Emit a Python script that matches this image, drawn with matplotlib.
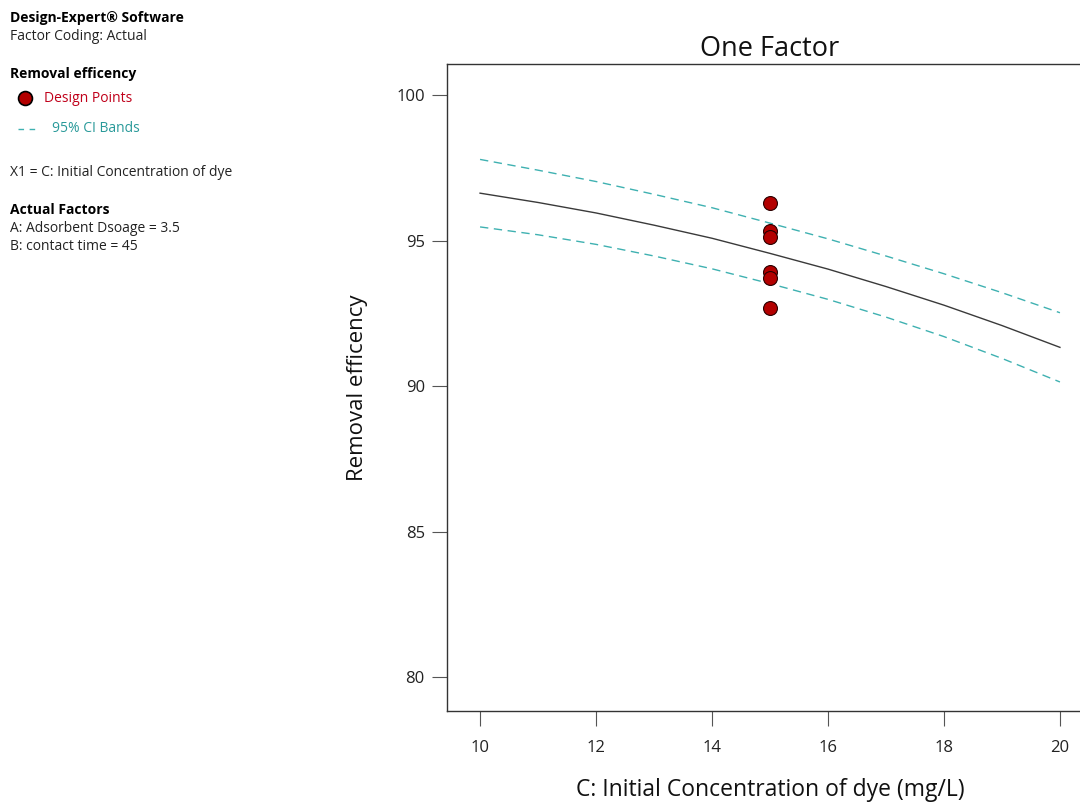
import matplotlib
matplotlib.use("Agg")
import matplotlib.pyplot as plt
from matplotlib.lines import Line2D

plt.rcParams['font.family'] = ['Open Sans', 'DejaVu Sans']

# predicted response and 95% CI bands along factor C
conc = [10, 11, 12, 13, 14, 15, 16, 17, 18, 19, 20]
pred = [96.63, 96.31, 95.95, 95.53, 95.08, 94.56, 94.02, 93.42, 92.78, 92.08, 91.33]
ci_upper = [97.79, 97.42, 97.03, 96.59, 96.13, 95.60, 95.06, 94.47, 93.86, 93.21, 92.52]
ci_lower = [95.47, 95.20, 94.87, 94.47, 94.03, 93.52, 92.98, 92.37, 91.70, 90.95, 90.14]

# design points (all runs at C = 15)
pts_x = [15, 15, 15, 15, 15, 15]
pts_y = [96.30, 95.32, 95.14, 93.93, 93.71, 92.68]

xticks = [10, 12, 14, 16, 18, 20]
yticks = [80, 85, 90, 95, 100]

teal = '#3fb1b1'
dark_red = '#b30000'

fig = plt.figure(figsize=(10.8, 8.07), dpi=100)
ax = fig.add_axes([447 / 1080, 96 / 807, 646 / 1080, 647 / 807])

ax.plot(conc, pred, color='#3a3a3a', lw=1.0)
ax.plot(conc, ci_upper, color=teal, lw=1.0, ls=(0, (6, 4)))
ax.plot(conc, ci_lower, color=teal, lw=1.0, ls=(0, (6, 4)))
ax.plot(pts_x, pts_y, 'o', ms=10, mfc=dark_red, mec='#2a0000', mew=0.8, ls='none')

ax.set_xlim(9.43, 20.57)
ax.set_ylim(78.83, 101.07)
ax.set_xticks(xticks)
ax.set_yticks(yticks)
ax.tick_params(axis='both', direction='out', length=11, width=0.8,
               color='#555555', labelsize=12, labelcolor='#222222')
ax.tick_params(axis='x', pad=10)
ax.tick_params(axis='y', pad=5)
for s in ax.spines.values():
    s.set_color('#333333')
    s.set_linewidth(1.0)

ax.set_title('One Factor', fontsize=19.5, pad=6, color='#111111')
ax.set_xlabel('C: Initial Concentration of dye (mg/L)', fontsize=16.5, labelpad=16, color='#111111')
ax.set_ylabel('Removal efficency', fontsize=16, labelpad=20, color='#111111')

# side information panel
fs = 10
def side(y, s, **kw):
    fig.text(10 / 1080, 1 - y / 807, s, fontsize=fs, va='center', ha='left', **kw)

side(18, 'Design-Expert® Software', fontweight='bold')
side(37, 'Factor Coding: Actual', color='#222222')
side(74, 'Removal efficency', fontweight='bold')
fig.add_artist(Line2D([25 / 1080], [1 - 98 / 807], marker='o', ms=10,
                      mfc=dark_red, mec='black', mew=1.2, transform=fig.transFigure))
fig.text(44 / 1080, 1 - 98 / 807, 'Design Points', fontsize=fs, va='center', color='#c0001a')
fig.add_artist(Line2D([18 / 1080, 40 / 1080], [1 - 129 / 807] * 2, color=teal,
                      lw=1.0, ls=(0, (4, 4)), transform=fig.transFigure))
fig.text(52 / 1080, 1 - 129 / 807, '95% CI Bands', fontsize=fs, va='center', color='#2a9a9a')
side(173, 'X1 = C: Initial Concentration of dye', color='#222222')
side(210, 'Actual Factors', fontweight='bold')
side(229, 'A: Adsorbent Dsoage = 3.5', color='#222222')
side(247, 'B: contact time = 45', color='#222222')

fig.savefig('out.png', dpi=100)
